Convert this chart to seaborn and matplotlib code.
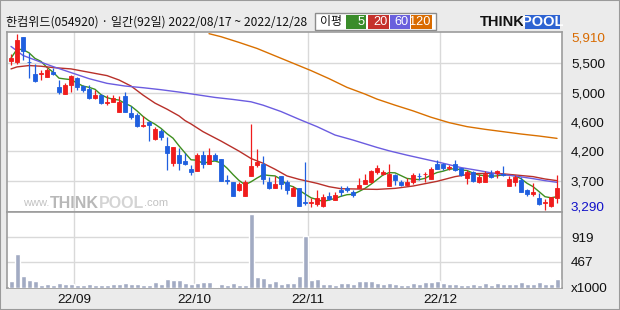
import numpy as np
import pandas as pd
import matplotlib
matplotlib.use("Agg")
import matplotlib.pyplot as plt
import seaborn as sns
from matplotlib.patches import Rectangle

sns.set_style("white")
NUM_FONT = ["Liberation Sans Narrow", "Liberation Sans", "DejaVu Sans"]
KR_FONT = ["Noto Sans CJK KR", "DejaVu Sans"]
plt.rcParams["font.family"] = NUM_FONT

# ---------------- data ----------------
title = "한컴위드(054920) · 일간(92일) 2022/08/17 ~ 2022/12/28"
legend_title = "이평"
month_labels = ["22/09", "22/10", "22/11", "22/12"]
month_start_idx = [11, 31, 50, 72]
price_grid = [5473, 5037, 4600, 4164, 3727]
price_tick_labels = ["5,500", "5,000", "4,600", "4,200", "3,700"]
vol_ticks = [0, 467, 919]
vol_tick_labels = ["x1000", "467", "919"]
ma_periods = [5, 20, 60, 120]

opens = [5510, 5500, 5860, 5500, 5320, 5310, 5270, 5340, 5120, 5010,
         5150, 5250, 5130, 5090, 4950, 5000, 4880, 4900, 4750, 4990,
         4740, 4700, 4540, 4600, 4340, 4470, 4240, 3990, 4110, 4020,
         3900, 3870, 4110, 3980, 4110, 4050, 3740, 3700, 3580, 3500,
         3800, 3960, 3980, 3700, 3610, 3790, 3700, 3500, 3620, 3410,
         3390, 3380, 3340, 3490, 3430, 3590, 3610, 3560, 3610, 3680,
         3700, 3850, 3820, 3650, 3810, 3710, 3660, 3700, 3800, 3820,
         3750, 3980, 3980, 3920, 3980, 3910, 3770, 3850, 3700, 3710,
         3820, 3840, 3830, 3650, 3700, 3730, 3590, 3530, 3460, 3390,
         3340, 3460]
highs = [5610, 5910, 5870, 5620, 5470, 5380, 5400, 5400, 5220, 5180,
         5300, 5270, 5150, 5150, 5080, 5020, 5000, 5000, 4980, 5040,
         4830, 4730, 4690, 4620, 4520, 4500, 4380, 4220, 4210, 4130,
         3960, 4130, 4160, 4210, 4140, 4050, 3810, 3710, 3700, 3740,
         4570, 4200, 4090, 3780, 3790, 3800, 3740, 3650, 3620, 4000,
         3460, 3590, 3530, 3560, 3550, 3640, 3650, 3590, 3760, 3820,
         3880, 3960, 3890, 3970, 3820, 3740, 3760, 3840, 3840, 3860,
         3930, 4040, 3990, 3960, 4030, 3920, 3880, 3870, 3820, 3870,
         3880, 3880, 3940, 3790, 3810, 3780, 3600, 3690, 3540, 3450,
         3480, 3810]
lows = [5450, 5470, 5520, 5250, 5200, 5230, 5270, 5300, 5010, 5010,
        5050, 5080, 5040, 4940, 4940, 4870, 4850, 4900, 4750, 4750,
        4650, 4530, 4520, 4310, 4330, 4330, 3890, 3940, 3880, 3960,
        3810, 3870, 3910, 3980, 4030, 3720, 3680, 3500, 3570, 3500,
        3790, 3930, 3680, 3600, 3610, 3600, 3530, 3500, 3350, 3360,
        3330, 3350, 3330, 3430, 3430, 3490, 3560, 3480, 3610, 3670,
        3690, 3830, 3810, 3650, 3660, 3640, 3650, 3680, 3740, 3710,
        3750, 3900, 3890, 3880, 3870, 3800, 3680, 3710, 3690, 3710,
        3760, 3760, 3800, 3650, 3650, 3560, 3500, 3500, 3360, 3290,
        3330, 3390]
closes = [5550, 5820, 5660, 5490, 5210, 5330, 5370, 5310, 5040, 5150,
          5280, 5120, 5080, 4950, 5000, 4880, 4900, 4960, 4890, 4750,
          4680, 4540, 4550, 4560, 4500, 4370, 4140, 4220, 3990, 3970,
          3860, 4110, 3980, 4110, 4030, 3720, 3720, 3500, 3670, 3710,
          3940, 4000, 3750, 3610, 3680, 3680, 3590, 3620, 3350, 3390,
          3400, 3460, 3480, 3450, 3510, 3560, 3580, 3510, 3660, 3740,
          3870, 3920, 3860, 3830, 3730, 3660, 3710, 3810, 3790, 3830,
          3900, 3900, 3910, 3930, 3880, 3810, 3850, 3720, 3780, 3830,
          3780, 3870, 3810, 3750, 3780, 3560, 3530, 3560, 3380, 3400,
          3480, 3610]
volumes = [117, 613, 203, 129, 110, 37, 55, 37, 74, 55,
           55, 37, 37, 55, 37, 37, 37, 55, 55, 74,
           55, 55, 37, 37, 98, 55, 147, 129, 129, 74,
           55, 74, 92, 92, 18, 55, 37, 74, 37, 37,
           1335, 184, 166, 74, 110, 55, 80, 74, 203, 938,
           129, 147, 55, 55, 37, 74, 74, 55, 110, 110,
           110, 74, 55, 74, 55, 37, 37, 74, 55, 92,
           92, 110, 74, 55, 55, 37, 37, 55, 37, 74,
           37, 74, 55, 55, 55, 92, 55, 55, 92, 55,
           55, 147]

ma20_idx = [0, 1, 3, 5, 7, 10, 13, 16, 18, 20, 22, 24, 26, 28, 29, 30, 32, 35, 38,
            40, 42, 44, 46, 48, 51, 53, 55, 58, 61, 64, 67, 71, 74, 77, 81, 84, 87, 89, 91]
ma20_val = [5390, 5420, 5440, 5430, 5410, 5390, 5340, 5290, 5225, 5135, 5000, 4880,
            4790, 4690, 4620, 4570, 4455, 4315, 4165, 4055, 3985, 3895, 3795, 3745,
            3685, 3635, 3605, 3600, 3595, 3610, 3645, 3715, 3785, 3830, 3835, 3810,
            3785, 3750, 3725]
ma60_idx = [0, 2, 5, 7, 10, 13, 16, 19, 22, 25, 28, 31, 34, 37, 40, 42, 45, 48, 51,
            54, 57, 61, 63, 66, 69, 72, 75, 78, 81, 84, 87, 89, 91]
ma60_val = [5725, 5590, 5490, 5425, 5335, 5245, 5175, 5135, 5110, 5080, 5045, 5005,
            4965, 4935, 4900, 4850, 4755, 4640, 4530, 4405, 4330, 4220, 4170, 4105,
            4045, 3985, 3920, 3875, 3825, 3795, 3755, 3725, 3700]
ma120_idx = [33, 35, 38, 41, 44, 47, 50, 53, 56, 59, 61, 64, 67, 70, 73, 76, 79, 82,
             85, 88, 91]
ma120_val = [5915, 5870, 5785, 5695, 5585, 5475, 5365, 5245, 5115, 5015, 4940, 4850,
             4765, 4670, 4590, 4530, 4490, 4455, 4420, 4390, 4355]

# ---------------- styling ----------------
W, H = 620, 310
BG = "#ebebeb"
UP = "#f01c1c"
DOWN = "#1f5fdf"
VOLC = "#a2abc3"
GRID = "#d9d9d9"
SPINE = "#9c9c9c"
MA_COLORS = {5: "#3f8f1f", 20: "#b8302a", 60: "#6b5ce0", 120: "#d97000"}
BOX_COLORS = {5: "#3a8c2a", 20: "#c5312c", 60: "#6a60dd", 120: "#d96b00"}


def fx(x):
    return x / W


def fy(y):
    return 1 - y / H


fig = plt.figure(figsize=(W / 100, H / 100), dpi=100, facecolor=BG)
renderer = fig.canvas.get_renderer()
ax_p = fig.add_axes([fx(7), fy(212), (562 - 7) / W, (212 - 32) / H])
ax_v = fig.add_axes([fx(7), fy(287.5), (562 - 7) / W, (287.5 - 212) / H])

df = pd.DataFrame({"open": opens, "high": highs, "low": lows, "close": closes,
                   "volume": volumes})
df["idx"] = np.arange(len(df))
df["ma5"] = df["close"].rolling(5, min_periods=1).mean()
up = df["close"] >= df["open"]
cols = np.where(up, UP, DOWN)

for ax in (ax_p, ax_v):
    ax.set_facecolor("white")
    ax.set_xlim(-0.67, 91.83)
    for s in ax.spines.values():
        s.set_visible(True)
        s.set_color(SPINE)
        s.set_linewidth(1.2)
    ax.set_xticks(np.array(month_start_idx) - 0.5)
    ax.grid(True, color=GRID, lw=1.0)
    ax.set_axisbelow(True)

ax_p.set_ylim(3258, 5940)
ax_p.set_yticks(price_grid)
ax_p.set_yticklabels(price_tick_labels)
ax_p.yaxis.tick_right()
ax_p.tick_params(axis="y", length=0, pad=6.5, labelsize=9.7, labelcolor="#111111")
ax_p.tick_params(axis="x", length=0, labelbottom=False)


def seq_text(parent, x_px, y_px, parts, gap=0.0, **common):
    """Place text pieces one after another, starting at x_px."""
    x = x_px
    out = []
    for s, kw in parts:
        t = parent.text(fx(x), fy(y_px), s, transform=fig.transFigure,
                        va="center", ha="left", **common, **kw)
        bb = t.get_window_extent(renderer)
        out.append((t, x, x + bb.width))
        x += bb.width + gap
    return out


# watermark (inside price panel, beneath the marks)
seq_text(ax_p, 23, 203.5, [
    ("www.", dict(fontsize=8.0, color="#c2c2c2")),
    ("THINK", dict(fontsize=11.5, fontweight="bold", color="#b8b8b8")),
    ("POOL", dict(fontsize=11.5, fontweight="bold", color="#d4d4d4")),
    (".com", dict(fontsize=8.0, color="#c2c2c2")),
], zorder=0.5)

# moving averages
sns.lineplot(x=df["idx"], y=df["ma5"], ax=ax_p, color=MA_COLORS[5], lw=1.0,
             legend=False, zorder=2.5)
sns.lineplot(x=ma20_idx, y=ma20_val, ax=ax_p, color=MA_COLORS[20], lw=1.0,
             legend=False, zorder=2.5)
sns.lineplot(x=ma60_idx, y=ma60_val, ax=ax_p, color=MA_COLORS[60], lw=1.0,
             legend=False, zorder=2.5)
sns.lineplot(x=ma120_idx, y=ma120_val, ax=ax_p, color=MA_COLORS[120], lw=1.0,
             legend=False, zorder=2.5)

# candles
ax_p.vlines(df["idx"], df["low"], df["high"], colors=cols, lw=0.9, zorder=3)
ax_p.bar(df["idx"], (df["close"] - df["open"]).abs(),
         bottom=np.minimum(df["open"], df["close"]), width=0.8, color=cols,
         edgecolor=cols, linewidth=0.6, zorder=4)
ax_p.set_xlabel("")
ax_p.set_ylabel("")

hi = int(df["high"].max())
lo = int(df["low"].min())
ax_p.annotate(f"{hi:,}", xy=(1, hi), xycoords=("axes fraction", "data"),
              xytext=(6.5, -3.0), textcoords="offset points", va="center",
              ha="left", color="#d86a00", fontsize=9.7, annotation_clip=False)
ax_p.annotate(f"{lo:,}", xy=(1, lo), xycoords=("axes fraction", "data"),
              xytext=(6.5, 2.0), textcoords="offset points", va="center",
              ha="left", color="#1010c8", fontsize=9.7, annotation_clip=False)

# volume panel
ax_v.bar(df["idx"], df["volume"], width=0.83, color=VOLC, zorder=3)
ax_v.set_ylim(0, 1380)
ax_v.set_yticks(vol_ticks)
ax_v.set_yticklabels(vol_tick_labels)
ax_v.yaxis.tick_right()
ax_v.tick_params(axis="y", length=0, pad=6.5, labelsize=9.7, labelcolor="#111111")
ax_v.set_xticklabels(month_labels)
ax_v.tick_params(axis="x", length=0, pad=4.5, labelsize=9.7, labelcolor="#111111")
ax_v.set_xlabel("")
ax_v.set_ylabel("")

# header
fig.text(fx(6), fy(22.5), title, family=KR_FONT, fontsize=8.7, va="center",
         ha="left", color="#111111")
fig.patches.append(Rectangle((fx(315), fy(30)), (436 - 315) / W, (30 - 13) / H,
                             transform=fig.transFigure, facecolor="white",
                             edgecolor="#8c8c8c", lw=1.0))
fig.text(fx(320), fy(21.5), legend_title, family=KR_FONT, fontsize=8.6,
         va="center", ha="left", color="#111111")
box_x = {5: (346, 366), 20: (368, 389), 60: (390, 410), 120: (411, 432)}
for p in ma_periods:
    x0, x1 = box_x[p]
    fig.patches.append(Rectangle((fx(x0), fy(28.5)), (x1 - x0) / W, 13 / H,
                                 transform=fig.transFigure,
                                 facecolor=BOX_COLORS[p], edgecolor="none"))
    fig.text(fx(x1 - 1.5), fy(22), str(p), fontsize=9.2, va="center", ha="right",
             color="white")

# logo
logo = seq_text(fig, 480, 22, [("THINK", dict(fontsize=10.5, fontweight="bold",
                                              color="#111111"))])
lx1 = logo[0][2]
fig.patches.append(Rectangle((fx(lx1), fy(29)), 35 / W, 14 / H,
                             transform=fig.transFigure, facecolor="#2d63d2",
                             edgecolor="none"))
fig.text(fx(lx1 + 17.5), fy(22), "POOL", fontsize=10.5, fontweight="bold",
         va="center", ha="center", color="white")

# outer frame
fig.patches.append(Rectangle((0, 0), 1, 1, transform=fig.transFigure,
                             fill=False, edgecolor="#9a9a9a", lw=1.5))

fig.savefig("out.png", dpi=100, facecolor=BG)
